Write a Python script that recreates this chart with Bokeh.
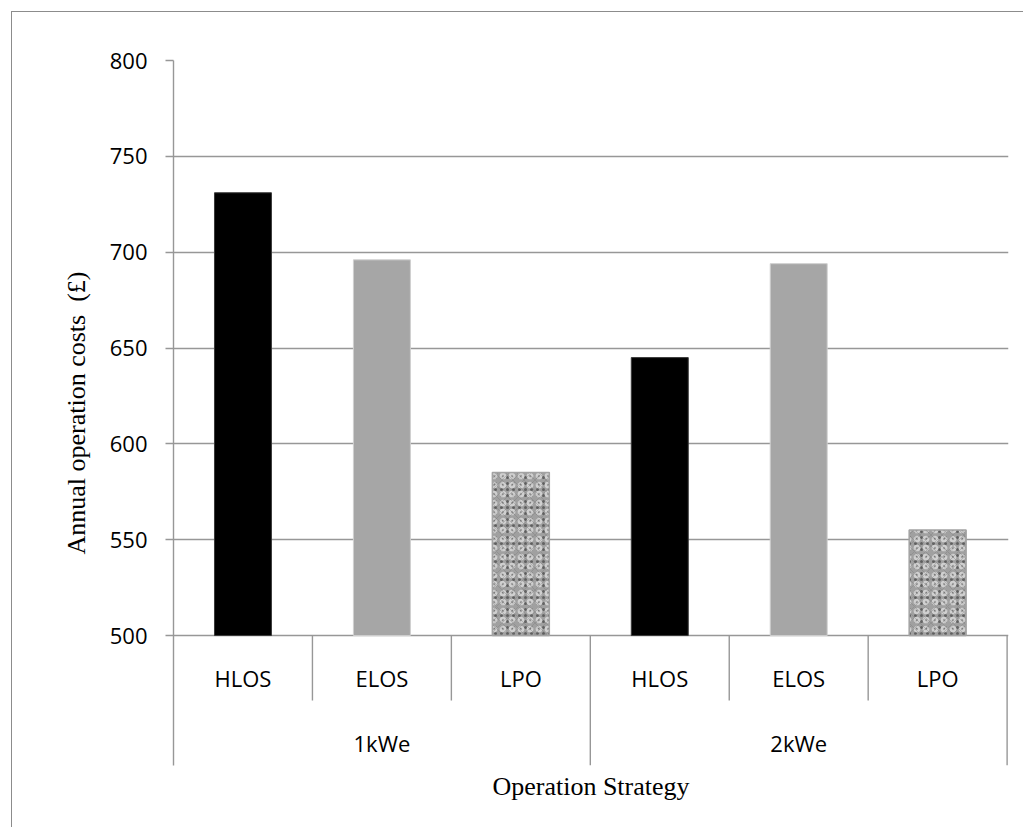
from bokeh.plotting import figure
from bokeh.models import Range1d, FixedTicker
from bokeh.core.properties import value
from bokeh.embed import file_html
from bokeh.resources import INLINE

# ---- data ----
groups = ["1kWe", "2kWe"]
strategies = ["HLOS", "ELOS", "LPO"]
costs_1kwe = [731, 696, 585]
costs_2kwe = [645, 694, 555]
y_ticks = [500, 550, 600, 650, 700, 750, 800]

series = [costs_1kwe, costs_2kwe]
n = len(strategies)

# positions on a numeric x scale (one unit per strategy)
xs, tops, labels = [], [], []
for g, vals in enumerate(series):
    for j, v in enumerate(vals):
        xs.append(g * n + j + 0.5)
        tops.append(v)
        labels.append(strategies[j])

base = y_ticks[0]
y_bottom = 432.2      # layout: lower end of the frame (category label area)
sub_sep_end = 466.1   # layout: end of the separators between strategies
sub_label_y = 478.1
group_label_y = 443.7

GRID = "#979797"

p = figure(width=1012, height=816,
           x_range=Range1d(0, len(groups) * n + 0.01),
           y_range=Range1d(y_bottom, y_ticks[-1]),
           output_backend="svg", toolbar_location=None,
           min_border_left=161, min_border_top=48,
           min_border_right=16, min_border_bottom=63)
p.styles = {"margin-left": "11px", "margin-top": "11px",
            "border-left": "1px solid #8c8c8c", "border-top": "1px solid #8c8c8c"}
p.outline_line_color = None
p.background_fill_color = "white"
p.border_fill_color = "white"

# grid
p.xgrid.visible = False
p.ygrid.ticker = FixedTicker(ticks=y_ticks)
p.ygrid.grid_line_color = GRID
p.ygrid.grid_line_width = 1.4

# y axis
p.yaxis.ticker = FixedTicker(ticks=y_ticks)
p.yaxis.axis_line_color = GRID
p.yaxis.axis_line_width = 1.4
p.yaxis.major_tick_line_color = GRID
p.yaxis.major_tick_line_width = 1.4
p.yaxis.major_tick_out = 8
p.yaxis.major_tick_in = 0
p.yaxis.minor_tick_line_color = None
p.yaxis.major_label_text_font = "Open Sans"
p.yaxis.major_label_text_font_size = "22px"
p.yaxis.major_label_text_color = "black"
p.yaxis.major_label_standoff = 18
p.yaxis.axis_label = "Annual operation costs \u00a0(£)"
p.yaxis.axis_label_text_font = "Liberation Serif"
p.yaxis.axis_label_text_font_style = "normal"
p.yaxis.axis_label_text_font_size = "26px"
p.yaxis.axis_label_text_color = "black"
p.yaxis.axis_label_standoff = 16

# x axis: only the title
p.xaxis.ticker = FixedTicker(ticks=[])
p.xaxis.axis_line_color = None
p.xaxis.major_tick_line_color = None
p.xaxis.minor_tick_line_color = None
p.xaxis.major_tick_out = 0
p.xaxis.major_label_standoff = 0
p.xaxis.axis_label = "Operation Strategy"
p.xaxis.axis_label_text_font = "Liberation Serif"
p.xaxis.axis_label_text_font_style = "normal"
p.xaxis.axis_label_text_font_size = "26px"
p.xaxis.axis_label_text_color = "black"
p.xaxis.axis_label_standoff = 6

# bars
bw = 0.41
def pick(k):
    return ([x for x, l in zip(xs, labels) if l == strategies[k]],
            [t for t, l in zip(tops, labels) if l == strategies[k]])

hl_x, hl_t = pick(0)
el_x, el_t = pick(1)
lp_x, lp_t = pick(2)

p.vbar(x=hl_x, top=hl_t, bottom=base, width=bw,
       fill_color="black", line_color="#3a3a3a", line_width=1)
p.vbar(x=el_x, top=el_t, bottom=base, width=bw,
       fill_color="#a6a6a6", line_color="#cfcfcf", line_width=1)
# mottled texture for LPO
p.vbar(x=lp_x, top=lp_t, bottom=base, width=bw,
       fill_color="#a0a0a0", line_color=None,
       hatch_pattern="dot", hatch_color="#4a4a4a", hatch_scale=6, hatch_weight=2.2, hatch_alpha=0.75)
p.vbar(x=lp_x, top=lp_t, bottom=base, width=bw,
       fill_color=None, line_color=None,
       hatch_pattern="ring", hatch_color="#dcdcdc", hatch_scale=9, hatch_weight=2.2, hatch_alpha=0.8)
p.vbar(x=lp_x, top=lp_t, bottom=base, width=bw,
       fill_color=None, line_color="#a3a3a3", line_width=1.5,
       hatch_pattern="diagonal_cross", hatch_color="#707070", hatch_scale=11, hatch_weight=0.8, hatch_alpha=0.4)

# category separators
sub_seps = [g * n + j for g in range(len(groups)) for j in range(1, n)]
grp_seps = [(g + 1) * n for g in range(len(groups))]
p.segment(x0=sub_seps, x1=sub_seps, y0=[base] * len(sub_seps), y1=[sub_sep_end] * len(sub_seps),
          line_color=GRID, line_width=1.4)
p.segment(x0=grp_seps, x1=grp_seps, y0=[base] * len(grp_seps), y1=[y_bottom] * len(grp_seps),
          line_color=GRID, line_width=1.4)

# category labels
p.text(x=xs, y=[sub_label_y] * len(xs), text=labels,
       text_align="center", text_baseline="middle",
       text_font=value("Open Sans"), text_font_size="22px", text_color="black")
gx = [g * n + n / 2 for g in range(len(groups))]
p.text(x=gx, y=[group_label_y] * len(gx), text=groups,
       text_align="center", text_baseline="middle",
       text_font=value("Open Sans"), text_font_size="22px", text_color="black")

open("out.html", "w").write(file_html(p, INLINE))
